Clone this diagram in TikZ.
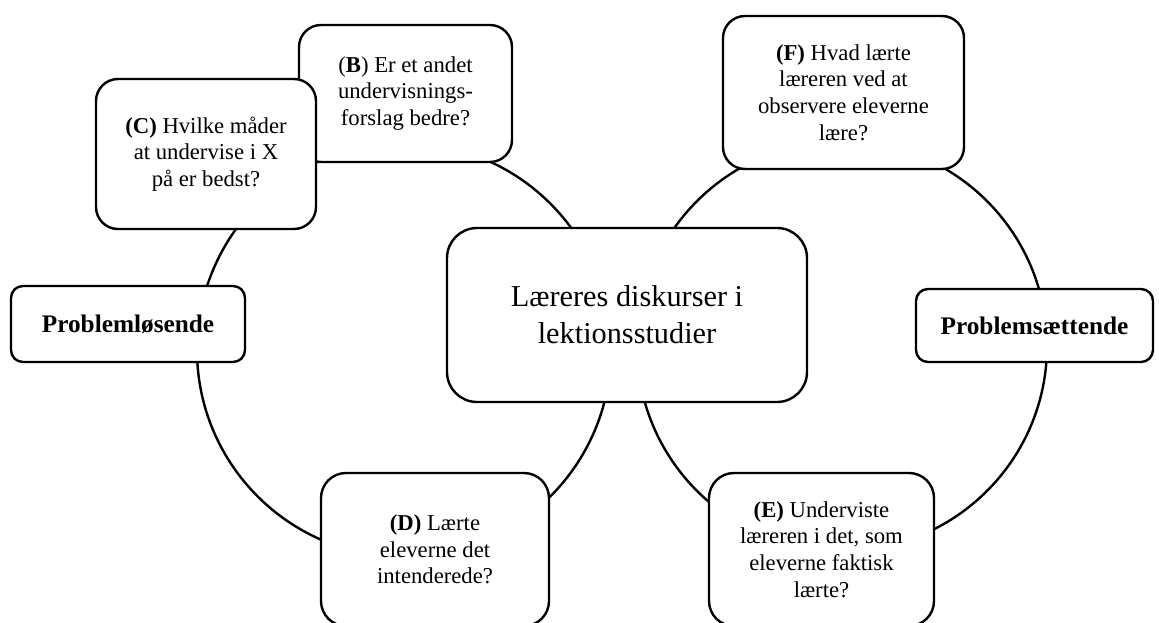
\documentclass[tikz,border=0pt]{standalone}
\usepackage{fontspec}
\setmainfont{Liberation Serif}
\usetikzlibrary{positioning}

\begin{document}
\begin{tikzpicture}[x=1pt, y=-1pt, line width=2.4pt,
    box/.style={draw, rounded corners=22pt, fill=white, align=center, inner sep=0pt, font=\fontsize{22.7}{26.6}\selectfont},
    side/.style={box, rounded corners=12pt, font=\fontsize{25.3}{30}\selectfont\bfseries},
    core/.style={box, rounded corners=30pt, font=\fontsize{30.3}{37}\selectfont}]
  \useasboundingbox (0,0) rectangle (1159,623);
  % the two cycles, drawn first so that the boxes cover them
  \coordinate (lft) at (404,350);
  \coordinate (rgt) at (842,346);
  \draw (lft) circle[radius=207pt];
  \draw (rgt) circle[radius=205pt];
  % problem solving cycle
  \node[box, minimum width=213pt, minimum height=137pt] (qb) at (405.5,93.5) {(\textbf{B}) Er et andet\\ undervisnings-\\ forslag bedre?};
  \node[box, minimum width=220pt, minimum height=150pt] (qc) at (206,154) {\textbf{(C)} Hvilke måder\\ at undervise i X\\ på er bedst?};
  \node[side, minimum width=234pt, minimum height=76pt] (losende) at (128,324) {Problemløsende};
  \node[box, rounded corners=25pt, minimum width=228pt, minimum height=153pt] (qd) at (435,549.5) {\textbf{(D)} Lærte\\ eleverne det\\ intenderede?};
  % problem posing cycle
  \node[box, minimum width=241pt, minimum height=153pt] (qf) at (843.5,92.5) {\textbf{(F)} Hvad lærte\\ læreren ved at\\ observere eleverne\\ lære?};
  \node[side, minimum width=237pt, minimum height=73pt] (saettende) at (1034.5,325.5) {Problemsættende};
  \node[box, rounded corners=25pt, minimum width=225pt, minimum height=153pt] (qe) at (821.5,549.5) {\textbf{(E)} Underviste\\ læreren i det, som\\ eleverne faktisk\\ lærte?};
  % centre
  \node[core, minimum width=360pt, minimum height=174pt] (disk) at (627,315) {Læreres diskurser i\\ lektionsstudier};
\end{tikzpicture}
\end{document}
